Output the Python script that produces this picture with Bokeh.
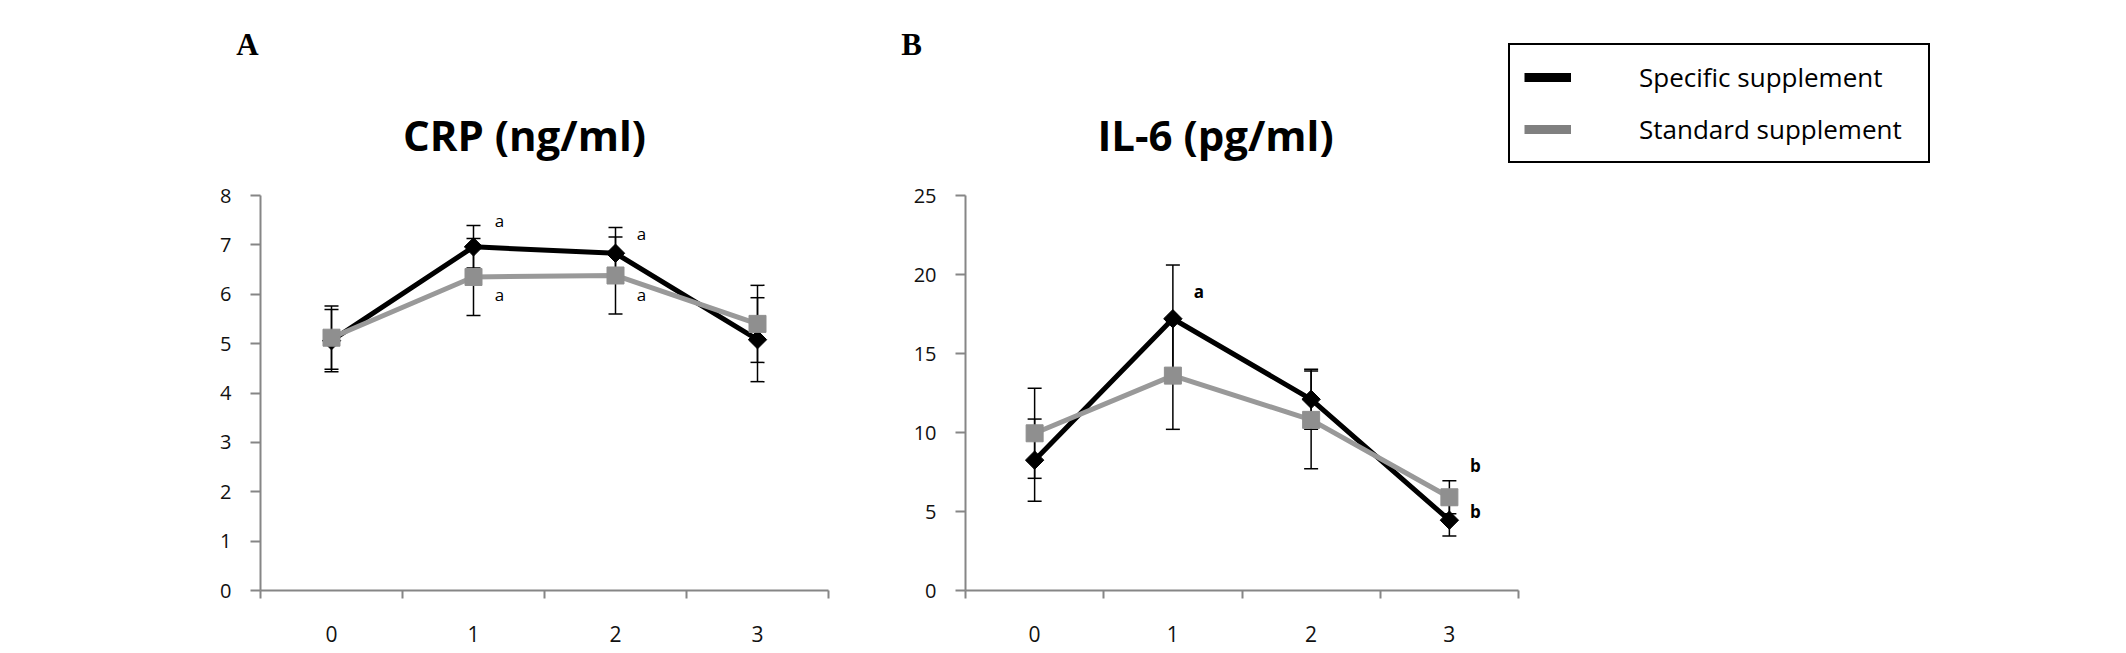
from bokeh.core.properties import value
from bokeh.embed import file_html
from bokeh.layouts import column, row
from bokeh.models import ColumnDataSource, FixedTicker, Label, Legend, LegendItem, Range1d, TeeHead, Whisker
from bokeh.plotting import figure
from bokeh.resources import INLINE

# Data (mean +/- SD per time point)
timepoints = [0, 1, 2, 3]
boundaries = [-0.5, 0.5, 1.5, 2.5, 3.5]

crp_specific = [5.06, 6.96, 6.83, 5.08]
crp_specific_err = [0.63, 0.43, 0.52, 0.85]
crp_standard = [5.12, 6.35, 6.38, 5.40]
crp_standard_err = [0.64, 0.78, 0.78, 0.78]

il6_specific = [8.25, 17.2, 12.1, 4.45]
il6_specific_err = [2.6, 3.4, 1.9, 1.0]
il6_standard = [9.95, 13.6, 10.8, 5.9]
il6_standard_err = [2.85, 3.4, 3.1, 1.05]

crp_sig_x = [1, 1, 2, 2]
crp_sig_y = [7.5, 6.0, 7.23, 6.0]
crp_sig_text = ["a", "a", "a", "a"]

il6_sig_x = [1, 3, 3]
il6_sig_y = [18.9, 7.9, 5.0]
il6_sig_text = ["a", "b", "b"]

crp_ticks = [0, 1, 2, 3, 4, 5, 6, 7, 8]
il6_ticks = [0, 5, 10, 15, 20, 25]

series_labels = ["Specific supplement", "Standard supplement"]

# Style
BLACK = "#000000"
GREY = "#999999"
GREY_MARK = "#8f8f8f"
AXIS = "#868686"
FONT = "Open Sans"
HEADER_H = 179


def make_panel(spec, spec_err, std, std_err, ticks, ymax, sig_x, sig_y, sig_text, sig_bold,
               frame_w, border_l, border_r):
    p = figure(
        frame_width=frame_w,
        frame_height=395,
        x_range=Range1d(-0.5, 3.5),
        y_range=Range1d(0, ymax),
        min_border_left=border_l,
        min_border_right=border_r,
        min_border_top=16,
        min_border_bottom=62,
        toolbar_location=None,
        output_backend="svg",
        title=None,
    )
    p.outline_line_color = None
    p.xgrid.visible = False
    p.ygrid.visible = False
    p.background_fill_color = "white"
    p.border_fill_color = "white"

    # error bars (behind lines and markers)
    for vals, errs in ((spec, spec_err), (std, std_err)):
        src = ColumnDataSource(data={
            "x": timepoints,
            "upper": [v + e for v, e in zip(vals, errs)],
            "lower": [v - e for v, e in zip(vals, errs)],
        })
        p.add_layout(Whisker(
            base="x", upper="upper", lower="lower", source=src,
            line_color=BLACK, line_width=1.5, level="underlay",
            upper_head=TeeHead(size=14, line_color=BLACK, line_width=1.5),
            lower_head=TeeHead(size=14, line_color=BLACK, line_width=1.5),
        ))

    # series
    p.line(timepoints, spec, line_color=BLACK, line_width=5)
    p.scatter(timepoints, spec, marker="square", angle=0.785398, size=13,
              fill_color=BLACK, line_color=BLACK)
    p.line(timepoints, std, line_color=GREY, line_width=5)
    p.scatter(timepoints, std, marker="square", size=17, fill_color=GREY_MARK, line_color=GREY_MARK)

    # significance letters
    sig_src = ColumnDataSource(data={"x": sig_x, "y": sig_y, "text": sig_text})
    p.text(x="x", y="y", text="text", source=sig_src, x_offset=26,
           text_font=value(FONT), text_font_size="17px",
           text_font_style="bold" if sig_bold else "normal",
           text_align="center", text_baseline="middle", text_color=BLACK)

    # axes
    p.xaxis.ticker = FixedTicker(ticks=timepoints, minor_ticks=boundaries)
    p.xaxis.axis_line_color = AXIS
    p.xaxis.axis_line_width = 2
    p.xaxis.major_tick_line_color = None
    p.xaxis.major_tick_out = 0
    p.xaxis.major_tick_in = 0
    p.xaxis.minor_tick_line_color = AXIS
    p.xaxis.minor_tick_line_width = 2
    p.xaxis.minor_tick_out = 8
    p.xaxis.minor_tick_in = 0
    p.xaxis.major_label_standoff = 27
    p.xaxis.major_label_text_font = FONT
    p.xaxis.major_label_text_font_size = "21px"
    p.xaxis.major_label_text_color = "#111111"

    p.yaxis.ticker = FixedTicker(ticks=ticks)
    p.yaxis.axis_line_color = AXIS
    p.yaxis.axis_line_width = 2
    p.yaxis.major_tick_line_color = AXIS
    p.yaxis.major_tick_line_width = 2
    p.yaxis.major_tick_out = 10
    p.yaxis.major_tick_in = 0
    p.yaxis.minor_tick_line_color = None
    p.yaxis.major_label_standoff = 19
    p.yaxis.major_label_text_font = FONT
    p.yaxis.major_label_text_font_size = "20px"
    p.yaxis.major_label_text_color = "#111111"
    return p


pa = make_panel(crp_specific, crp_specific_err, crp_standard, crp_standard_err, crp_ticks, 8,
                crp_sig_x, crp_sig_y, crp_sig_text, False, 568, 260, 60)
pb = make_panel(il6_specific, il6_specific_err, il6_standard, il6_standard_err, il6_ticks, 25,
                il6_sig_x, il6_sig_y, il6_sig_text, True, 553, 77, 592)

# Header strip: panel letters, panel titles and the legend (pixel-like coordinates)
head = figure(
    width=2110, height=HEADER_H,
    x_range=Range1d(0, 2110), y_range=Range1d(0, HEADER_H),
    x_axis_type=None, y_axis_type=None,
    min_border=0, toolbar_location=None, output_backend="svg", title=None,
)
head.outline_line_color = None
head.xgrid.visible = False
head.ygrid.visible = False

for txt, x in (("A", 247), ("B", 911)):
    head.add_layout(Label(x=x, y=HEADER_H - 44, text=txt, text_font="Liberation Serif",
                          text_font_size="31px", text_font_style="bold",
                          text_align="center", text_baseline="middle", text_color=BLACK))
for txt, x in (("CRP (ng/ml)", 524), ("IL-6 (pg/ml)", 1215)):
    head.add_layout(Label(x=x, y=HEADER_H - 134, text=txt, text_font=FONT,
                          text_font_size="42px", text_font_style="bold",
                          text_align="center", text_baseline="alphabetic", text_color=BLACK))

# legend swatches: off-screen dummy lines, only their legend glyphs are seen
r_spec = head.line([-200, -100], [-200, -200], line_color=BLACK, line_width=9)
r_std = head.line([-200, -100], [-200, -200], line_color="#808080", line_width=9)
legend = Legend(
    items=[LegendItem(label=series_labels[0], renderers=[r_spec]),
           LegendItem(label=series_labels[1], renderers=[r_std])],
    location=(1508, HEADER_H - 163),
    padding=14,
    spacing=16,
    margin=0,
    glyph_width=47,
    glyph_height=32,
    label_height=32,
    label_width=275,
    label_standoff=68,
    label_text_font=FONT,
    label_text_font_size="26px",
    label_text_color=BLACK,
    border_line_color=BLACK,
    border_line_alpha=1.0,
    border_line_width=2,
    background_fill_color="white",
    background_fill_alpha=1.0,
)
head.add_layout(legend)

layout = column(head, row(pa, pb))
open("out.html", "w").write(file_html(layout, INLINE))
